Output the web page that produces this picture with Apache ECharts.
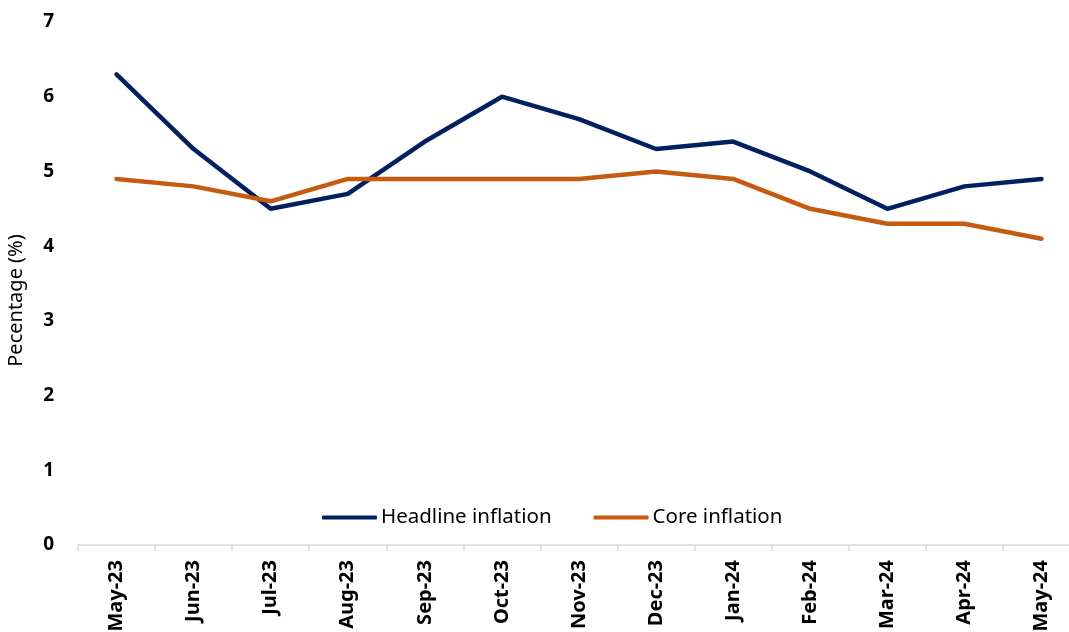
<!DOCTYPE html>
<html>
<head>
<meta charset="utf-8">
<script src="https://cdn.jsdelivr.net/npm/echarts@6/dist/echarts.min.js"></script>
<style>
  html, body { margin: 0; padding: 0; background: #fff; }
  #chart { width: 1069px; height: 632px; }
</style>
</head>
<body>
<div id="chart"></div>
<script>
  // data
  const months = ['May-23', 'Jun-23', 'Jul-23', 'Aug-23', 'Sep-23', 'Oct-23', 'Nov-23',
    'Dec-23', 'Jan-24', 'Feb-24', 'Mar-24', 'Apr-24', 'May-24'];
  const headline = [6.3, 5.3, 4.5, 4.7, 5.4, 6.0, 5.7, 5.3, 5.4, 5.0, 4.5, 4.8, 4.9];
  const core = [4.9, 4.8, 4.6, 4.9, 4.9, 4.9, 4.9, 5.0, 4.9, 4.5, 4.3, 4.3, 4.1];

  const font = 'Noto Sans, Liberation Sans, sans-serif';
  const chart = echarts.init(document.getElementById('chart'));
  chart.setOption({
    backgroundColor: '#fff',
    animation: false,
    // plot runs past the right edge, like the original
    grid: { left: 78, width: 1002, top: 22, height: 523, containLabel: false, outerBoundsMode: 'none' },
    legend: {
      top: 502,
      left: 317,
      itemWidth: 55,
      itemHeight: 4,
      itemGap: 42,
      icon: 'roundRect',
      textStyle: { fontFamily: font, fontSize: 20.5, color: '#000', padding: [0, 0, 0, -1] },
      data: ['Headline inflation', 'Core inflation']
    },
    xAxis: {
      type: 'category',
      data: months,
      boundaryGap: true,
      axisLine: { lineStyle: { color: '#d9d9d9', width: 1.5 } },
      axisTick: { show: true, length: 6, lineStyle: { color: '#d9d9d9', width: 1.5 } },
      axisLabel: {
        rotate: 90,
        interval: 0,
        margin: 15,
        fontFamily: font,
        fontWeight: 'bold',
        fontSize: 20,
        color: '#000'
      }
    },
    yAxis: {
      type: 'value',
      min: 0,
      max: 7,
      interval: 1,
      name: 'Pecentage (%)',
      nameLocation: 'middle',
      nameGap: 52,
      nameTextStyle: { fontFamily: font, fontSize: 20, color: '#000', padding: [0, 34, 0, 0] },
      axisLine: { show: false },
      axisTick: { show: false },
      splitLine: { show: false },
      axisLabel: {
        margin: 24,
        fontFamily: font,
        fontWeight: 'bold',
        fontSize: 19,
        color: '#000'
      }
    },
    series: [
      {
        name: 'Headline inflation',
        type: 'line',
        data: headline,
        symbol: 'none',
        color: '#002060',
        lineStyle: { width: 4.5, color: '#002060', cap: 'round' }
      },
      {
        name: 'Core inflation',
        type: 'line',
        data: core,
        symbol: 'none',
        color: '#C55A11',
        lineStyle: { width: 4.5, color: '#C55A11', cap: 'round' }
      }
    ]
  });
</script>
</body>
</html>
